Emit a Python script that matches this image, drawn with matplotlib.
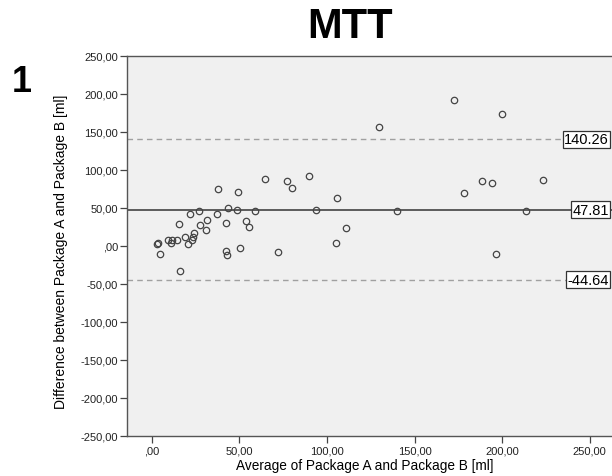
import numpy as np
import matplotlib.pyplot as plt

plt.rcParams['font.family'] = ['Liberation Sans', 'DejaVu Sans']

# Bland-Altman data: mean of both packages vs. their difference (ml)
avg_ab = [2.85, 3.77, 4.74, 9.47, 10.84, 11.59, 14.61, 15.58, 16.32, 19.18,
          20.89, 22.03, 22.72, 23.29, 23.97, 27.17, 27.74, 31.16, 31.39, 37.27,
          37.67, 42.24, 42.24, 43.15, 43.72, 48.69, 49.26, 50.68, 54.00, 55.71,
          58.96, 64.67, 72.09, 77.23, 79.91, 89.61, 93.89, 105.19, 105.88, 110.62,
          129.57, 140.18, 172.72, 178.25, 188.36, 194.41, 196.35, 199.94, 213.64, 223.17]
diff_ab = [2.2, 3.6, -10.1, 7.9, 3.6, 7.5, 7.5, 28.6, -32.9, 11.4,
           2.2, 41.7, 8.3, 11.2, 16.7, 46.1, 27.6, 20.7, 33.8, 42.5,
           75.4, 30.3, -7.0, -11.4, 49.6, 47.8, 70.7, -3.0, 32.5, 24.6,
           46.4, 87.8, -7.5, 85.5, 76.6, 92.5, 47.4, 4.3, 63.4, 23.3,
           156.6, 46.1, 192.5, 69.3, 85.1, 82.9, -10.5, 173.3, 46.4, 86.4]

mean_diff = 47.81
upper_loa = 140.26
lower_loa = -44.64

x_ticks = [0, 50, 100, 150, 200, 250]
y_ticks = [-250, -200, -150, -100, -50, 0, 50, 100, 150, 200, 250]


def comma_fmt(v):
    s = f"{v:.2f}".replace('.', ',')
    if s.startswith('0,'):
        s = s[1:]
    elif s.startswith('-0,'):
        s = '-' + s[2:]
    return s


W, H = 612, 477
fig = plt.figure(figsize=(W / 100, H / 100), dpi=100)
# axes runs past the right edge of the figure
ax = fig.add_axes([127 / W, 40 / H, (625 - 127) / W, 380 / H])
ax.set_facecolor('#f0f0f0')

x0 = -14.1
x1 = (625 - 151.7) / 1.752
ax.set_xlim(x0, x1)
ax.set_ylim(-250, 250)

ax.axhline(mean_diff, color='#505050', lw=1.3, zorder=2)
ax.axhline(upper_loa, color='#a0a0a0', lw=1.0, ls=(0, (4, 3)), zorder=2)
ax.axhline(lower_loa, color='#a0a0a0', lw=1.0, ls=(0, (4, 3)), zorder=2)

ax.plot(avg_ab, diff_ab, 'o', ms=4.6, mfc='none', mec='#444444', mew=0.9, zorder=3)

# limit labels sit at the right end, kept inside the figure
x_lab = (609 - 151.7) / 1.752
for val in (upper_loa, mean_diff, lower_loa):
    ax.text(x_lab, val, f"{val:.2f}", ha='right', va='center', fontsize=10.5,
            zorder=4,
            bbox=dict(boxstyle='square,pad=0.1', fc='white', ec='#333333', lw=0.9))

ax.set_xticks(x_ticks)
ax.set_yticks(y_ticks)
ax.set_xticklabels([comma_fmt(v) for v in x_ticks], fontsize=8, color='#222222')
ax.set_yticklabels([comma_fmt(v) for v in y_ticks], fontsize=8, color='#222222')
ax.tick_params(direction='out', length=5, width=0.9, color='#444444', pad=1.5)

for side in ('left', 'bottom', 'top', 'right'):
    ax.spines[side].set_color('#555555')
    ax.spines[side].set_linewidth(1.0)

ax.set_xlabel('Average of Package A and Package B [ml]', fontsize=9.8)
ax.xaxis.set_label_coords((365 - 127) / 498, -0.058)
ax.set_ylabel('Difference between Package A and Package B [ml]', fontsize=10)
ax.yaxis.set_label_coords(-(127 - 68) / 498, 0.487)

fig.text(350 / W, 1 - 27 / H, 'MTT', ha='center', va='center', fontsize=30, fontweight='bold')
fig.text(22 / W, 1 - 82 / H, '1', ha='center', va='center', fontsize=26, fontweight='bold')

fig.savefig('out.png', dpi=100)
